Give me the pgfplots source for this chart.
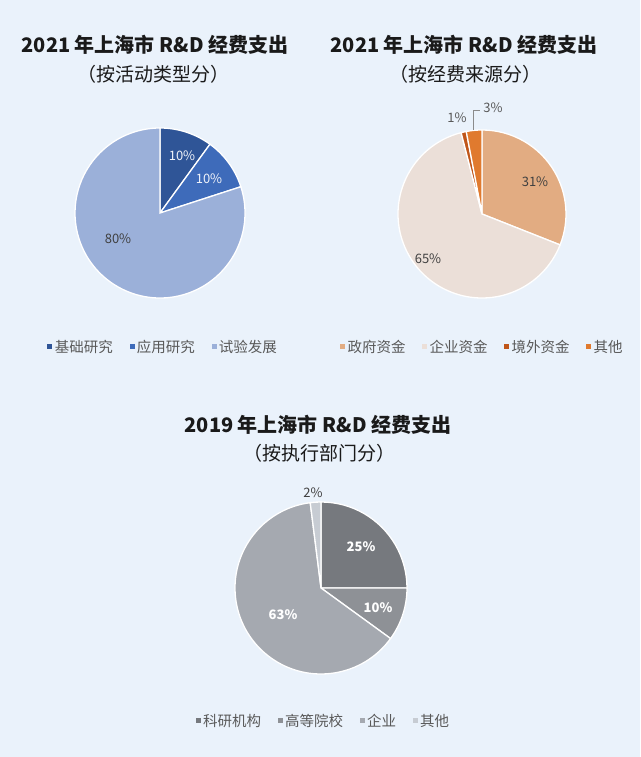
\documentclass[border=0pt]{standalone}
\usepackage{pgfplots}
\pgfplotsset{compat=1.18}
\usepackage{fontspec}
\setmainfont{Noto Sans CJK SC}
\definecolor{bg}{HTML}{EAF2FB}
\definecolor{a1}{HTML}{2F5597}
\definecolor{a2}{HTML}{3E6BBA}
\definecolor{a3}{HTML}{9BB0D9}
\definecolor{b1}{HTML}{E2AC82}
\definecolor{b2}{HTML}{EBDFD8}
\definecolor{b3}{HTML}{C0561A}
\definecolor{b4}{HTML}{E07A2E}
\definecolor{c1}{HTML}{76797E}
\definecolor{c2}{HTML}{8E9196}
\definecolor{c3}{HTML}{A5A9B0}
\definecolor{c4}{HTML}{C7CCD3}
\definecolor{txt}{HTML}{595959}
\definecolor{lbl}{HTML}{404040}
\definecolor{ttl}{HTML}{1A1A1A}
% slice: colour, cumulative start (%), value (%), radius (pt)
\newcommand\slice[4]{%
  \fill[#1, draw=white, line width=1.3pt] (axis cs:0,0) -- ++({90-3.6*#2}:#4pt)
    arc[start angle={90-3.6*#2}, delta angle={-3.6*#3}, radius=#4pt] -- cycle;}
\pgfplotsset{
  piestyle/.style={hide axis, scale only axis, width=200pt, height=200pt,
    xmin=-100, xmax=100, ymin=-100, ymax=100, clip=false, anchor=center,
    legend columns=-1,
    legend style={draw=none, fill=none, anchor=center,
      font=\fontsize{14.5}{16}\selectfont\color{txt},
      /tikz/every odd column/.append style={column sep=1pt},
      /tikz/every even column/.append style={column sep=15pt},
      nodes={inner sep=1.5pt}},
    legend image code/.code={\fill[##1, draw=none] (0pt,-2.5pt) rectangle (5pt,2.5pt);}}
}
\tikzset{pct/.style={font=\fontsize{13}{15}\selectfont}}
\begin{document}
\begin{tikzpicture}
\path[use as bounding box] (0,0) rectangle (640pt,757pt);
\fill[bg] (0,0) rectangle (640pt,757pt);
% titles
\node[font=\bfseries\fontsize{20}{24}\selectfont, text=ttl] at (155pt,712pt) {2021 年上海市 R\&D 经费支出};
\node[font=\fontsize{19}{23}\selectfont, text=ttl] at (153pt,683pt) {（按活动类型分）};
\node[font=\bfseries\fontsize{20}{24}\selectfont, text=ttl] at (464pt,712pt) {2021 年上海市 R\&D 经费支出};
\node[font=\fontsize{19}{23}\selectfont, text=ttl] at (465pt,683pt) {（按经费来源分）};
\node[font=\bfseries\fontsize{20}{24}\selectfont, text=ttl] at (318pt,332pt) {2019 年上海市 R\&D 经费支出};
\node[font=\fontsize{19}{23}\selectfont, text=ttl] at (319pt,304pt) {（按执行部门分）};

% chart 1
\begin{axis}[piestyle, at={(160pt,544pt)}, legend style={at={(0.515,-0.17)}}]
\addlegendimage{fill=a1}\addlegendentry{基础研究}
\addlegendimage{fill=a2}\addlegendentry{应用研究}
\addlegendimage{fill=a3}\addlegendentry{试验发展}
\slice{a1}{0}{10}{85}
\slice{a2}{10}{10}{85}
\slice{a3}{20}{80}{85}
\node[pct, text=white!85!a3] at (axis cs:22,57) {10\%};
\node[pct, text=white!85!a3] at (axis cs:49,34) {10\%};
\node[pct, text=lbl] at (axis cs:-42,-26) {80\%};
\end{axis}

% chart 2
\begin{axis}[piestyle, at={(482pt,543pt)}, legend style={at={(0.5,-0.165)}}]
\addlegendimage{fill=b1}\addlegendentry{政府资金}
\addlegendimage{fill=b2}\addlegendentry{企业资金}
\addlegendimage{fill=b3}\addlegendentry{境外资金}
\addlegendimage{fill=b4}\addlegendentry{其他}
\slice{b1}{0}{31}{84}
\slice{b2}{31}{65}{84}
\slice{b3}{96}{1}{84}
\slice{b4}{97}{3}{84}
\node[pct, text=lbl] at (axis cs:53,32) {31\%};
\node[pct, text=lbl] at (axis cs:-54,-45) {65\%};
\node[pct, text=txt] at (axis cs:-25,96) {1\%};
\node[pct, text=txt] at (axis cs:11,106) {3\%};
\draw[txt!70, line width=0.6pt] (axis cs:-8.5,84) -- (axis cs:-8.5,104) -- (axis cs:-2.5,104);
\end{axis}

% chart 3
\begin{axis}[piestyle, at={(321pt,169pt)}, legend style={at={(0.51,-0.165)}}]
\addlegendimage{fill=c1}\addlegendentry{科研机构}
\addlegendimage{fill=c2}\addlegendentry{高等院校}
\addlegendimage{fill=c3}\addlegendentry{企业}
\addlegendimage{fill=c4}\addlegendentry{其他}
\slice{c1}{0}{25}{86}
\slice{c2}{25}{10}{86}
\slice{c3}{35}{63}{86}
\slice{c4}{98}{2}{86}
\node[pct, text=white, font=\bfseries\fontsize{13}{15}\selectfont] at (axis cs:40,41) {25\%};
\node[pct, text=white, font=\bfseries\fontsize{13}{15}\selectfont] at (axis cs:57,-20) {10\%};
\node[pct, text=white, font=\bfseries\fontsize{13}{15}\selectfont] at (axis cs:-38,-27) {63\%};
\node[pct, text=lbl] at (axis cs:-8,95) {2\%};
\end{axis}
\end{tikzpicture}
\end{document}
